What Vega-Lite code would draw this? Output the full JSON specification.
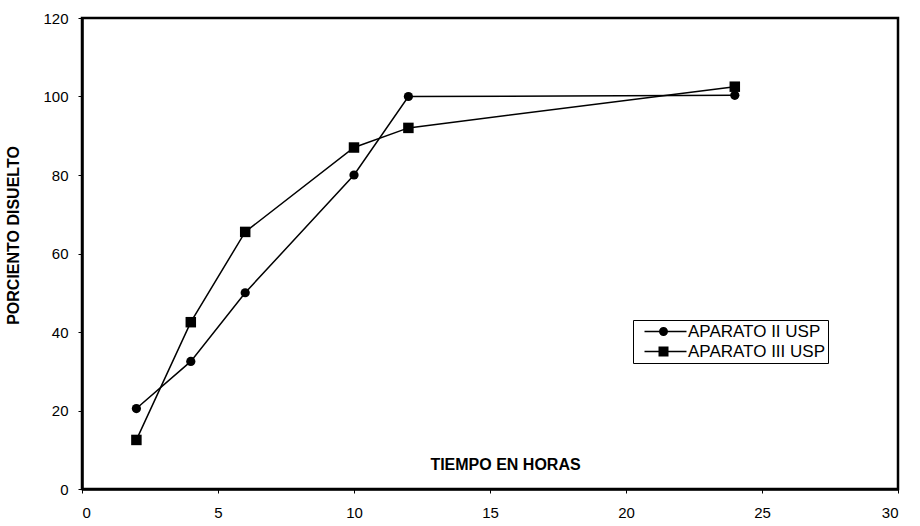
{
  "$schema": "https://vega.github.io/schema/vega-lite/v6.json",
  "width": 816,
  "height": 471,
  "autosize": {"type": "none"},
  "padding": {"left": 82, "top": 18, "right": 22, "bottom": 37},
  "background": "white",
  "config": {
    "view": {"stroke": "black", "strokeWidth": 2.5},
    "font": "Liberation Sans",
    "axis": {"grid": false, "domainColor": "black", "domainWidth": 2.5, "tickColor": "black", "tickSize": 4, "labelColor": "black", "labelFontSize": 15, "labelFont": "Liberation Sans", "titleFont": "Liberation Sans", "titleFontSize": 16, "titleFontWeight": "bold", "titleColor": "black"}
  },
  "data": {
    "values": [
      {"horas": 2, "porciento": 20.5, "serie": "APARATO II USP"},
      {"horas": 4, "porciento": 32.5, "serie": "APARATO II USP"},
      {"horas": 6, "porciento": 50, "serie": "APARATO II USP"},
      {"horas": 10, "porciento": 80, "serie": "APARATO II USP"},
      {"horas": 12, "porciento": 100, "serie": "APARATO II USP"},
      {"horas": 24, "porciento": 100.3, "serie": "APARATO II USP"},
      {"horas": 2, "porciento": 12.5, "serie": "APARATO III USP"},
      {"horas": 4, "porciento": 42.5, "serie": "APARATO III USP"},
      {"horas": 6, "porciento": 65.5, "serie": "APARATO III USP"},
      {"horas": 10, "porciento": 87, "serie": "APARATO III USP"},
      {"horas": 12, "porciento": 92, "serie": "APARATO III USP"},
      {"horas": 24, "porciento": 102.5, "serie": "APARATO III USP"}
    ]
  },
  "encoding": {
    "x": {"field": "horas", "type": "quantitative", "scale": {"domain": [0, 30], "nice": false},
      "axis": {"values": [0, 5, 10, 15, 20, 25, 30], "title": "TIEMPO EN HORAS", "labelPadding": 12, "titleX": 423, "titleY": -25, "titleBaseline": "middle"}},
    "y": {"field": "porciento", "type": "quantitative", "scale": {"domain": [0, 120], "nice": false},
      "axis": {"values": [0, 20, 40, 60, 80, 100, 120], "title": "PORCIENTO DISUELTO", "labelPadding": 10, "titleX": -69, "titleY": 217, "titleBaseline": "middle"}}
  },
  "layer": [
    {
      "mark": {"type": "line", "color": "black", "strokeWidth": 1.5},
      "encoding": {"detail": {"field": "serie"}}
    },
    {
      "mark": {"type": "point", "filled": true, "color": "black", "opacity": 1},
      "encoding": {
        "shape": {"field": "serie", "type": "nominal", "scale": {"domain": ["APARATO II USP", "APARATO III USP"], "range": ["circle", "square"]}, "legend": null},
        "size": {"field": "serie", "type": "nominal", "scale": {"domain": ["APARATO II USP", "APARATO III USP"], "range": [85, 110]}, "legend": null}
      }
    },
    {
      "mark": {"type": "point", "filled": true, "color": "black", "opacity": 0, "size": 64},
      "encoding": {
        "shape": {"field": "serie", "type": "nominal",
          "scale": {"domain": ["APARATO II USP", "APARATO III USP"], "range": [
            "M0,-0.18 H10.5 V0.18 H0 Z M5.875,0 A1.125,1.125 0 1,1 3.625,0 A1.125,1.125 0 1,1 5.875,0 Z",
            "M0,-0.18 H10.5 V0.18 H0 Z M3.5,-1.25 H6 V1.25 H3.5 Z"
          ]},
          "legend": {"title": null, "orient": "none", "legendX": 551, "legendY": 302, "strokeColor": "black", "padding": 3, "symbolOpacity": 1, "symbolFillColor": "black", "symbolStrokeWidth": 0, "symbolSize": 64, "labelOffset": 35, "labelFontSize": 17, "labelColor": "black", "labelFont": "Liberation Sans", "rowPadding": 2}
        }
      }
    }
  ],
  "resolve": {"scale": {"shape": "independent", "size": "independent"}, "legend": {"shape": "independent"}}
}
